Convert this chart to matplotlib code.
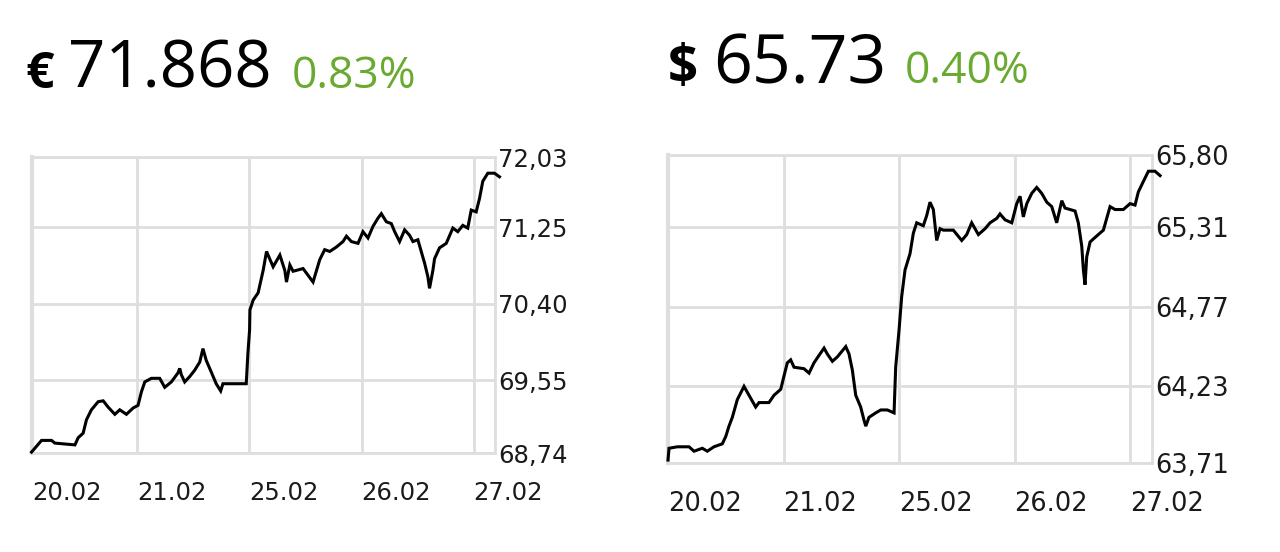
import matplotlib
matplotlib.use("Agg")
import matplotlib.pyplot as plt

# EUR chart: time in trading days from 20.02, price in EUR
eur_days = [0.056, 0.145, 0.234, 0.264, 0.443, 0.472, 0.516, 0.546, 0.590, 0.650,
            0.695, 0.739, 0.799, 0.843, 0.902, 0.962, 1.006, 1.036, 1.066, 1.125,
            1.199, 1.244, 1.303, 1.362, 1.378, 1.392, 1.422, 1.467, 1.511, 1.556,
            1.585, 1.614, 1.659, 1.703, 1.743, 1.763, 1.971, 1.986, 2.001, 2.004,
            2.033, 2.077, 2.122, 2.152, 2.211, 2.271, 2.315, 2.330, 2.360, 2.389,
            2.478, 2.567, 2.627, 2.671, 2.716, 2.776, 2.834, 2.865, 2.909, 2.968,
            3.012, 3.057, 3.102, 3.146, 3.176, 3.221, 3.265, 3.295, 3.339, 3.384,
            3.428, 3.458, 3.502, 3.532, 3.562, 3.591, 3.606, 3.636, 3.651, 3.695,
            3.755, 3.814, 3.858, 3.903, 3.947, 3.978, 4.022, 4.052, 4.081, 4.126,
            4.185, 4.230]
eur_prices = [68.75, 68.88, 68.88, 68.85, 68.83, 68.91, 68.96, 69.11, 69.22, 69.31,
              69.32, 69.25, 69.17, 69.22, 69.17, 69.24, 69.27, 69.42, 69.53, 69.57,
              69.57, 69.47, 69.53, 69.63, 69.68, 69.61, 69.53, 69.59, 69.66, 69.75,
              69.90, 69.77, 69.64, 69.51, 69.43, 69.51, 69.51, 69.85, 70.11, 70.33,
              70.44, 70.52, 70.77, 70.98, 70.81, 70.94, 70.77, 70.64, 70.83, 70.76,
              70.79, 70.64, 70.89, 71.00, 70.98, 71.03, 71.09, 71.15, 71.09, 71.07,
              71.20, 71.13, 71.26, 71.35, 71.40, 71.31, 71.29, 71.20, 71.09, 71.22,
              71.16, 71.09, 71.11, 70.98, 70.85, 70.70, 70.57, 70.77, 70.90, 71.02,
              71.07, 71.24, 71.20, 71.27, 71.24, 71.44, 71.42, 71.57, 71.76, 71.85,
              71.85, 71.81]

# USD chart
usd_days = [0.000, 0.009, 0.081, 0.182, 0.225, 0.297, 0.340, 0.398, 0.470, 0.500,
            0.528, 0.557, 0.600, 0.658, 0.701, 0.759, 0.788, 0.874, 0.918, 0.976,
            1.004, 1.033, 1.062, 1.091, 1.177, 1.221, 1.264, 1.307, 1.351, 1.379,
            1.423, 1.466, 1.539, 1.567, 1.596, 1.625, 1.668, 1.697, 1.712, 1.740,
            1.798, 1.842, 1.899, 1.957, 1.971, 2.000, 2.023, 2.052, 2.095, 2.124,
            2.153, 2.210, 2.240, 2.268, 2.297, 2.326, 2.355, 2.384, 2.470, 2.543,
            2.586, 2.629, 2.687, 2.745, 2.788, 2.846, 2.874, 2.918, 2.976, 3.019,
            3.048, 3.076, 3.106, 3.149, 3.192, 3.235, 3.279, 3.322, 3.365, 3.409,
            3.437, 3.481, 3.524, 3.552, 3.582, 3.596, 3.610, 3.625, 3.654, 3.682,
            3.725, 3.769, 3.827, 3.870, 3.942, 4.000, 4.043, 4.072, 4.115, 4.159,
            4.216, 4.260]
usd_prices = [63.73, 63.81, 63.82, 63.82, 63.79, 63.81, 63.79, 63.82, 63.84, 63.89,
              63.96, 64.02, 64.14, 64.23, 64.17, 64.09, 64.12, 64.12, 64.17, 64.21,
              64.30, 64.39, 64.41, 64.36, 64.35, 64.32, 64.39, 64.44, 64.49, 64.45,
              64.40, 64.43, 64.50, 64.45, 64.34, 64.17, 64.09, 64.00, 63.96, 64.02,
              64.05, 64.07, 64.07, 64.05, 64.36, 64.61, 64.84, 65.02, 65.13, 65.27,
              65.34, 65.32, 65.39, 65.48, 65.43, 65.22, 65.30, 65.29, 65.29, 65.22,
              65.26, 65.34, 65.26, 65.30, 65.34, 65.37, 65.40, 65.36, 65.34, 65.47,
              65.52, 65.38, 65.47, 65.54, 65.58, 65.54, 65.48, 65.45, 65.34, 65.49,
              65.44, 65.43, 65.42, 65.34, 65.18, 65.02, 64.92, 65.11, 65.21, 65.23,
              65.26, 65.29, 65.45, 65.43, 65.43, 65.47, 65.46, 65.55, 65.62, 65.69,
              65.69, 65.66]

date_labels = ["20.02", "21.02", "25.02", "26.02", "27.02"]
eur_yticks = [68.74, 69.55, 70.40, 71.25, 72.03]
usd_yticks = [63.71, 64.23, 64.77, 65.31, 65.80]

eur_header = ("€", "71.868", "0.83%")
usd_header = ("$", "65.73", "0.40%")

GRID = "#dedede"
GREEN = "#6aaa30"

fig = plt.figure(figsize=(12.8, 5.52), dpi=100)


def draw_panel(rect, days, prices, yticks, xstart, xend, fs):
    ax = fig.add_axes(rect)
    ax.plot(days, prices, color="black", lw=2.2, clip_on=False, zorder=3,
            solid_joinstyle="miter")
    ax.set_xlim(xstart, xend)
    ax.set_ylim(yticks[0], yticks[-1])
    ax.set_xticks([xstart, 1, 2, 3, 4])
    ax.set_xticklabels(date_labels, ha="left")
    ax.set_yticks(yticks)
    ax.set_yticklabels([f"{v:.2f}".replace(".", ",") for v in yticks])
    ax.yaxis.tick_right()
    ax.tick_params(axis="both", length=0, labelsize=fs, labelcolor="#1a1a1a",
                   labelfontfamily="DejaVu Sans")
    ax.tick_params(axis="x", pad=20)
    ax.tick_params(axis="y", pad=2)
    ax.grid(True, color=GRID, lw=2)
    ax.set_axisbelow(True)
    for side, sp in ax.spines.items():
        sp.set_color(GRID)
        sp.set_linewidth(3 if side == "left" else 2)
    return ax


draw_panel([32 / 1280, 99 / 552, 463 / 1280, 296 / 552],
           eur_days, eur_prices, eur_yticks, 0.06, 4.19, 17.5)
draw_panel([668 / 1280, 89 / 552, 484 / 1280, 308 / 552],
           usd_days, usd_prices, usd_yticks, 0.0, 4.19, 18.5)

# headers
fig.text(25 / 1280, 1 - 88 / 552, eur_header[0], fontsize=36, fontweight="bold",
         family="Open Sans", va="baseline")
fig.text(68 / 1280, 1 - 88 / 552, eur_header[1], fontsize=47, fontweight=500,
         family="Open Sans", va="baseline")
fig.text(292 / 1280, 1 - 88 / 552, eur_header[2], fontsize=32, color=GREEN,
         family="Open Sans", va="baseline")

fig.text(668 / 1280, 1 - 83 / 552, usd_header[0], fontsize=38, fontweight="bold",
         family="Open Sans", va="baseline")
fig.text(713 / 1280, 1 - 83 / 552, usd_header[1], fontsize=49, fontweight=500,
         family="Open Sans", va="baseline")
fig.text(905 / 1280, 1 - 83 / 552, usd_header[2], fontsize=32, color=GREEN,
         family="Open Sans", va="baseline")

plt.savefig("out.png", dpi=100)
